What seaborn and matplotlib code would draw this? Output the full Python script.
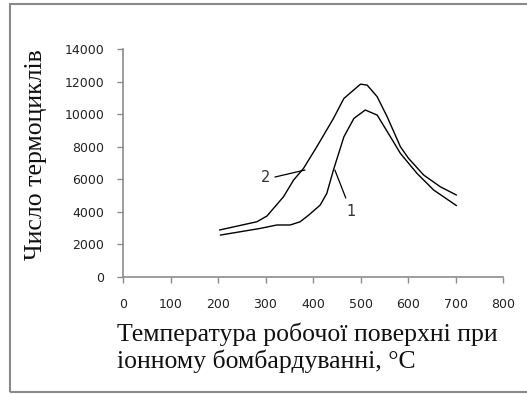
import matplotlib
matplotlib.use("Agg")
import matplotlib.pyplot as plt
import numpy as np
import pandas as pd
import seaborn as sns
from matplotlib.patches import Rectangle

sns.set_style("white")

# Curve 1 (lower) and curve 2 (upper)
temp_1 = [205, 289, 324, 352, 373, 391, 415, 429, 443, 465, 486, 510, 535, 563, 584, 619, 654, 702]
cycles_1 = [2560, 2970, 3180, 3180, 3380, 3790, 4400, 5120, 6560, 8600, 9730, 10250, 9940, 8600, 7580, 6350, 5330, 4370]
temp_2 = [203, 282, 303, 338, 359, 380, 408, 443, 465, 500, 514, 535, 556, 584, 601, 633, 668, 702]
cycles_2 = [2870, 3380, 3730, 4920, 5940, 6660, 7990, 9730, 10960, 11840, 11780, 11070, 9840, 7990, 7280, 6250, 5530, 5020]

x_ticks = [0, 100, 200, 300, 400, 500, 600, 700, 800]
y_ticks = [0, 2000, 4000, 6000, 8000, 10000, 12000, 14000]

x_label = "Температура робочої поверхні при\nіонному бомбардуванні, \u00b0C"
y_label = "Число термоциклів"

df = pd.concat([
    pd.DataFrame({"t": temp_1, "n": cycles_1, "curve": "1"}),
    pd.DataFrame({"t": temp_2, "n": cycles_2, "curve": "2"}),
])

fig = plt.figure(figsize=(5.27, 3.94), dpi=100)
ax = fig.add_axes([0.2334, 0.2977, 0.7211, 0.5779])

sns.lineplot(data=df, x="t", y="n", units="curve", estimator=None,
             color="black", lw=1.0, sort=False, ax=ax, legend=False)

ax.set_xlim(0, 800)
ax.set_ylim(0, 14000)
ax.set_xticks(x_ticks)
ax.set_yticks(y_ticks)
ax.set_xticklabels([str(v) for v in x_ticks])
ax.set_yticklabels([str(v) for v in y_ticks])

for s in ["top", "right"]:
    ax.spines[s].set_visible(False)
for s in ["left", "bottom"]:
    ax.spines[s].set_color("#8c8c8c")
    ax.spines[s].set_linewidth(1.2)

ax.tick_params(axis="y", direction="out", length=4.5, width=1, color="#8c8c8c",
               pad=9, labelsize=9, labelcolor="#222222", left=True)
ax.tick_params(axis="x", direction="out", length=4.5, width=1, color="#8c8c8c",
               pad=11, labelsize=9, labelcolor="#222222", bottom=True)

ax.set_xlabel("")
ax.set_ylabel(y_label, family="Liberation Serif", fontsize=18.5, color="#111111")
ax.yaxis.set_label_coords(-0.2, 0.537)
fig.text(117 / 527, 1 - 322 / 394, x_label, family="Liberation Serif",
         fontsize=18.5, color="#111111", ha="left", va="top", linespacing=1.2)

# curve labels with leader lines
ax.plot([320, 383], [6130, 6560], color="black", lw=0.9)
ax.text(301, 6130, "2", ha="center", va="center", fontsize=10.5, color="#333333")
ax.plot([469, 446], [4840, 6560], color="black", lw=0.9)
ax.text(480, 3980, "1", ha="center", va="center", fontsize=10.5, color="#333333")

# outer frame
fig.patches.append(Rectangle((10 / 527, 2 / 394), 1.0, 388 / 394,
                             transform=fig.transFigure, fill=False,
                             edgecolor="#8a8a8a", lw=1.5, clip_on=False))

fig.savefig("out.png", dpi=100)
